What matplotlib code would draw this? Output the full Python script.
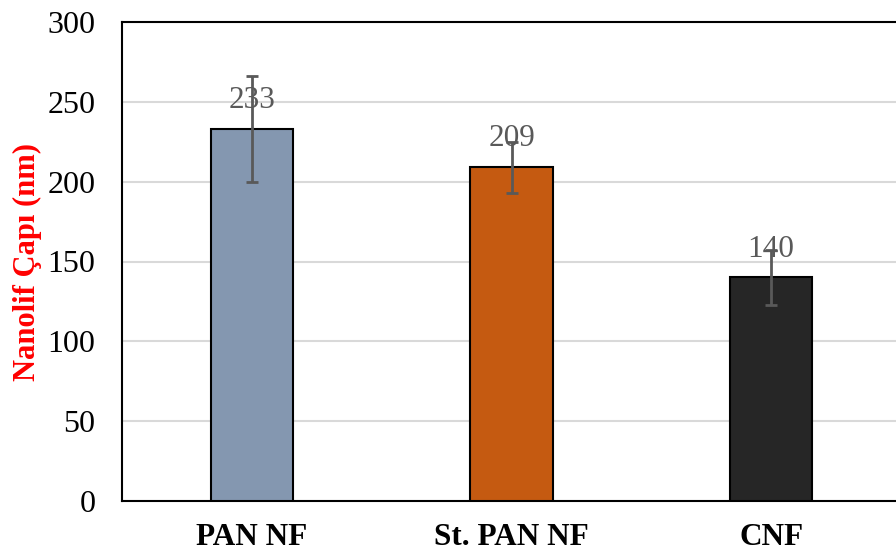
import matplotlib
matplotlib.use("Agg")
import matplotlib.pyplot as plt
import numpy as np

categories = ["PAN NF", "St. PAN NF", "CNF"]
values = [233, 209, 140]
errors = [33, 16, 17]
colors = ["#8497B0", "#C55A11", "#262626"]
yticks = [0, 50, 100, 150, 200, 250, 300]

plt.rcParams['font.family'] = ['Liberation Serif', 'DejaVu Serif']

fig = plt.figure(figsize=(8.96, 5.54), dpi=100)
ax = fig.add_axes([122/896, 1 - 501/554, (901 - 122)/896, (501 - 22)/554])

x = np.arange(len(categories))
ax.bar(x, values, width=0.316, color=colors, edgecolor="black", linewidth=1.5, zorder=3)
ax.errorbar(x, values, yerr=errors, fmt="none", ecolor="#595959", elinewidth=2,
            capsize=4.5, capthick=2, zorder=4)
for xi, v in zip(x, values):
    ax.annotate(str(v), (xi, v), xytext=(0, 10), textcoords="offset points",
                ha="center", va="bottom", fontsize=22.5, color="#595959", zorder=5)

ax.set_xlim(-0.5, 2.5)
ax.set_ylim(0, 300)
ax.set_yticks(yticks)
ax.set_yticklabels([str(t) for t in yticks], fontsize=23)
ax.set_xticks(x)
ax.set_xticklabels(categories, fontsize=22.5, fontweight="bold")
ax.tick_params(axis="both", length=0)
ax.tick_params(axis="y", pad=19)
ax.tick_params(axis="x", pad=16)
ax.yaxis.grid(True, color="#D9D9D9", linewidth=1.5, zorder=0)
ax.set_axisbelow(True)
for s in ax.spines.values():
    s.set_color("black")
    s.set_linewidth(1.5)
ax.set_ylabel("Nanolif Çapı (nm)", fontsize=22, fontweight="bold", color="#FF0000", va="center")
ax.yaxis.set_label_coords(-0.122, 0.499)

fig.savefig("out.png", dpi=100)
